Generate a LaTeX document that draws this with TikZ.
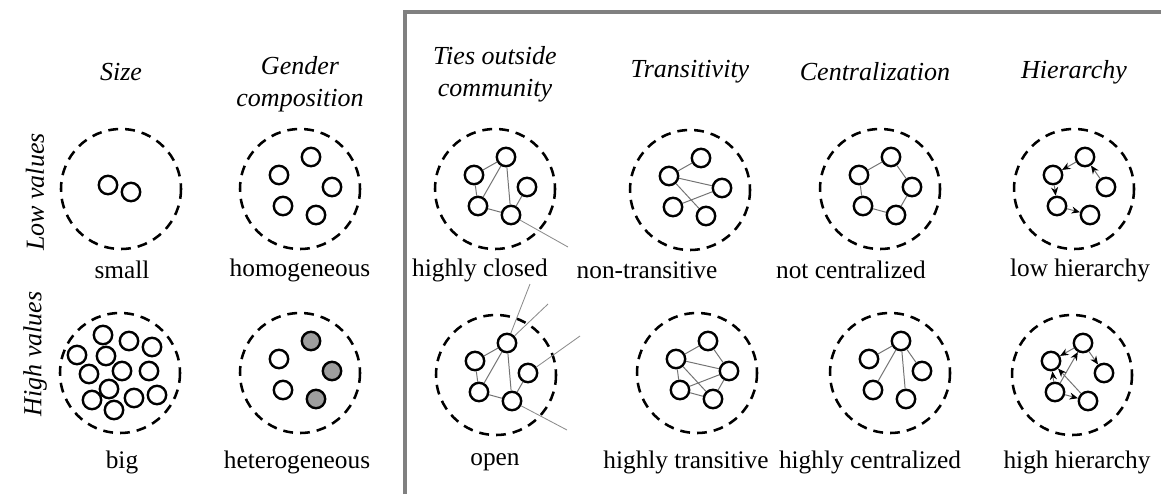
\documentclass[tikz,border=0pt]{standalone}
\usepackage{fontspec}
\setmainfont{Liberation Serif}
\usetikzlibrary{arrows.meta}

\definecolor{shade}{gray}{0.62}
\definecolor{framegray}{gray}{0.5}

\tikzset{
  nd/.style={circle,draw,line width=1.7pt,minimum size=0.46cm,inner sep=0pt,fill=white},
  grp/.style={draw,dash pattern=on 7pt off 5pt,line width=1.8pt},
  tie/.style={draw=black!55,line width=0.7pt},
  outtie/.style={draw=black!45,line width=0.6pt},
  dir/.style={tie,-{Stealth[length=6pt,width=5pt,black]}},
  head/.style={font=\fontsize{18.5}{22.7}\selectfont\itshape,align=center},
  lbl/.style={font=\fontsize{18}{21}\selectfont},
}

% five people in a group, placed around the group's centre
\newcommand{\fivenodes}[1]{%
  \foreach \n/\px/\py in {a/11/-32,b/-21/-14,c/32/-2,d/-17/17,e/16/26}
    \node[nd] (#1\n) at (\px,\py) {};}

\begin{document}
\begin{tikzpicture}[x=0.025cm,y=-0.025cm]
\useasboundingbox (0,0) rectangle (1161,494);

% frame round the network measures
\draw[framegray,line width=2.8pt] (405,494) -- (405,12) -- (1161,12);

% column heads
\node[head] (hsize) at (121,72) {Size};
\node[head] (hgender) at (300,84) {Gender\\composition};
\node[head] (hties) at (495,74) {Ties outside\\community};
\node[head] (htrans) at (690,72) {Transitivity};
\node[head] (hcent) at (875,72) {Centralization};
\node[head] (hhier) at (1074,72) {Hierarchy};

% row heads
\node[head,rotate=90] (rlow) at (35,192) {Low values};
\node[head,rotate=90] (rhigh) at (35,354) {High values};

%% low values
\begin{scope}[shift={(121,189)}]
 \draw[grp] (0,0) circle (60);
 \node[nd] (sma) at (-13,-4) {};
 \node[nd] (smb) at (10,3) {};
\end{scope}
\begin{scope}[shift={(300,189)}]
 \draw[grp] (0,0) circle (60);
 \fivenodes{ho}
\end{scope}
\begin{scope}[shift={(495,189)}]
 \draw[grp] (0,0) circle (60);
 \fivenodes{cl}
 \coordinate (clx) at (73,58);
\end{scope}
\draw[tie] (clb)--(cla) (clb)--(cld) (cld)--(cla) (cla)--(cle) (cld)--(cle) (cle)--(clc);
\draw[outtie] (cle)--(clx);

\begin{scope}[shift={(690,190)}]
 \draw[grp] (0,0) circle (60);
 \fivenodes{nt}
\end{scope}
\draw[tie] (ntb)--(nta) (ntb)--(ntc) (ntb)--(nte) (ntd)--(ntc);

\begin{scope}[shift={(880,189)}]
 \draw[grp] (0,0) circle (60);
 \fivenodes{nc}
\end{scope}
\draw[tie] (nca)--(ncb)--(ncd)--(nce)--(ncc)--(nca);

\begin{scope}[shift={(1074,189)}]
 \draw[grp] (0,0) circle (60);
 \fivenodes{lh}
\end{scope}
\draw[dir] (lha)--(lhb);
\draw[dir] (lhc)--(lha);
\draw[dir] (lhb)--(lhd);
\draw[dir] (lhd)--(lhe);

\node[lbl] (lsmall) at (122,270) {small};
\node[lbl] (lhomo) at (300,270) {homogeneous};
\node[lbl] (lclosed) at (480,270) {highly closed};
\node[lbl] (lnontr) at (647,270) {non-transitive};
\node[lbl] (lnotc) at (851,270) {not centralized};
\node[lbl] (llowh) at (1080,270) {low hierarchy};

%% high values
\begin{scope}[shift={(120,373)}]
 \draw[grp] (0,0) circle (60);
 \foreach \n/\px/\py in {1/-17/-38,2/9/-32,3/32/-26,4/-43/-18,5/-14/-17,
   6/-31/1,7/2/-2,8/29/-2,9/-11/16,10/-28/27,11/14/25,12/37/22,13/-6/37}
   \node[nd] (bg\n) at (\px,\py) {};
\end{scope}
\begin{scope}[shift={(300,373)}]
 \draw[grp] (0,0) circle (60);
 \node[nd,fill=shade] (hea) at (11,-32) {};
 \node[nd] (heb) at (-21,-14) {};
 \node[nd,fill=shade] (hec) at (32,-2) {};
 \node[nd] (hed) at (-17,17) {};
 \node[nd,fill=shade] (hee) at (16,26) {};
\end{scope}
\begin{scope}[shift={(496,375)}]
 \draw[grp] (0,0) circle (60);
 \fivenodes{op}
 \coordinate (opx1) at (34,-91);
 \coordinate (opx2) at (52,-71);
 \coordinate (opx3) at (84,-39);
 \coordinate (opx4) at (71,55);
\end{scope}
\draw[tie] (opb)--(opa) (opb)--(opd) (opd)--(opa) (opa)--(ope) (opd)--(ope) (ope)--(opc);
\draw[outtie] (opa)--(opx1) (opa)--(opx2) (opc)--(opx3) (ope)--(opx4);

\begin{scope}[shift={(697,373)}]
 \draw[grp] (0,0) circle (60);
 \fivenodes{ht}
\end{scope}
\draw[tie] (htb)--(hta)--(htc) (htb)--(htc) (htb)--(htd) (htb)--(hte)
  (htd)--(htc) (htd)--(hte)--(htc);

\begin{scope}[shift={(890,373)}]
 \draw[grp] (0,0) circle (60);
 \fivenodes{hc}
\end{scope}
\draw[tie] (hca)--(hcb) (hca)--(hcc) (hca)--(hcd) (hca)--(hce);

\begin{scope}[shift={(1072,375)}]
 \draw[grp] (0,0) circle (60);
 \fivenodes{hh}
\end{scope}
\draw[dir] (hha)--(hhb);
\draw[dir] (hha)--(hhc);
\draw[dir] (hhd)--(hha);
\draw[dir] (hhd)--(hhb);
\draw[dir,{Stealth[length=6pt,width=5pt,black]}-] (hhb)--(hhe);
\draw[dir] (hhd)--(hhe);

\node[lbl] (lbig) at (122,462) {big};
\node[lbl] (lhetero) at (297,462) {heterogeneous};
\node[lbl] (lopen) at (495,462) {open};
\node[lbl] (lhightr) at (686,462) {highly transitive};
\node[lbl] (lhighc) at (870,462) {highly centralized};
\node[lbl] (lhighh) at (1077,462) {high hierarchy};
\end{tikzpicture}
\end{document}
